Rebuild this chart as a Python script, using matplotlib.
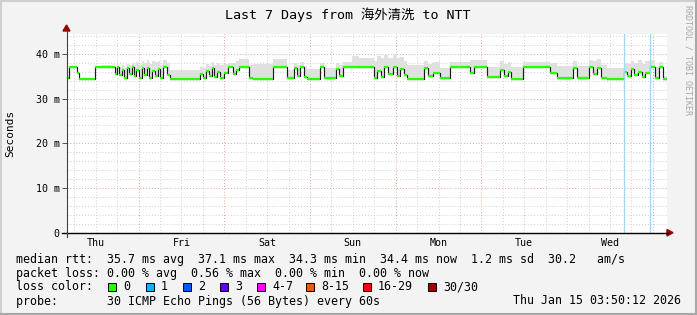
import numpy as np
import matplotlib
matplotlib.use("Agg")
import matplotlib.pyplot as plt
from matplotlib.patches import Polygon, Rectangle
from matplotlib.lines import Line2D

W, H = 697, 315
MONO = ["DejaVu Sans Mono", "Noto Sans CJK SC"]

# step segments: start hour (since Thu 03:50), median rtt (ms), top of smoke (ms)
seg_hours = [0.0, 0.6, 2.8, 3.5, 8.0, 10.0, 12.5, 13.6, 14.2, 14.8, 15.5, 16.2, 17.0, 17.6, 18.2,
             18.8, 19.5, 20.2, 21.0, 21.8, 22.5, 23.2, 24.0, 24.8, 25.5, 26.2, 27.0, 28.0, 29.0,
             37.4, 38.2, 39.0, 39.8, 40.6, 41.4, 42.2, 43.0, 44.0, 45.2, 46.6, 47.4, 48.4, 51.0,
             52.2, 57.9, 61.7, 63.8, 64.6, 65.5, 66.4, 67.4, 71.0, 72.0, 75.5, 76.4, 77.5, 80.0,
             82.0, 86.0, 87.0, 88.0, 89.0, 90.0, 91.4, 92.4, 93.4, 94.4, 95.3, 100.0, 101.3, 102.7,
             104.6, 107.4, 113.0, 114.0, 117.7, 121.5, 122.4, 123.5, 124.5, 127.9, 135.5, 137.4,
             141.8, 142.8, 146.2, 147.5, 148.4, 149.6, 151.4, 156.0, 157.0, 158.0, 159.0, 160.0,
             161.0, 162.0, 163.4, 164.8, 166.0, 167.0]
median_ms = [34.7, 37.1, 35.7, 34.4, 37.1, 37.1, 37.1, 35.6, 37.0, 35.2, 36.4, 34.6, 36.8, 35.5, 37.0,
             35.0, 36.5, 34.5, 36.8, 35.3, 36.9, 34.6, 36.2, 35.0, 36.6, 34.5, 37.0, 35.2, 34.4,
             35.6, 34.6, 36.2, 35.0, 36.8, 34.8, 36.0, 34.6, 35.8, 37.1, 35.4, 36.4, 37.0, 34.5,
             34.4, 37.1, 34.5, 36.8, 35.0, 37.0, 34.8, 34.4, 37.0, 34.5, 36.6, 35.0, 37.1, 37.1,
             37.1, 34.6, 36.2, 34.8, 37.0, 35.4, 37.0, 35.0, 36.6, 35.2, 34.4, 36.8, 35.0, 35.7,
             34.5, 37.1, 35.7, 37.1, 34.8, 36.4, 35.0, 36.0, 34.4, 37.1, 35.7, 34.5,
             36.8, 34.5, 37.0, 35.4, 36.8, 34.6, 34.4, 36.0, 35.0, 36.6, 35.2, 36.0,
             34.8, 35.8, 37.0, 34.5, 37.0, 34.4]
smoke_ms = [35.0, 37.4, 36.0, 34.6, 37.3, 37.5, 37.4, 37.0, 37.6, 37.0, 37.5, 36.8, 37.8, 37.5, 38.0,
            37.6, 38.2, 37.5, 38.4, 38.0, 38.6, 37.8, 38.5, 38.2, 38.4, 37.5, 38.6, 38.0, 36.5,
            37.0, 36.8, 37.8, 37.4, 38.2, 37.6, 38.0, 37.5, 37.8, 38.0, 38.0, 38.5, 38.8, 37.6,
            37.8, 38.8, 36.5, 38.0, 37.5, 38.3, 37.4, 36.6, 38.0, 36.8, 38.0, 37.5, 38.2, 39.5,
            39.0, 38.5, 39.5, 39.0, 39.8, 39.0, 40.0, 39.0, 39.2, 38.5, 37.5, 38.5, 37.8, 38.2,
            36.8, 38.2, 38.6, 38.6, 37.0, 38.4, 37.8, 38.2, 37.0, 38.2, 38.0, 37.2,
            38.4, 37.4, 38.6, 38.4, 38.8, 37.6, 36.8, 38.0, 37.8, 38.5, 38.0, 38.6,
            37.8, 38.4, 38.6, 37.0, 38.2, 35.0]
vrule_hours = [156.0, 163.4]
total_hours = 168
first_noon = 8.17
first_midnight = 20.17
days = ["Thu", "Fri", "Sat", "Sun", "Mon", "Tue", "Wed"]
y_ticks = [0, 10, 20, 30, 40]
y_labels = ["0", "10 m", "20 m", "30 m", "40 m"]

rtt_stats = [35.7, 37.1, 34.3, 34.4]
rtt_sd = 1.2
rtt_ams = 30.2
loss_stats = [0.00, 0.56, 0.00, 0.00]
loss_labels = ["0", "1", "2", "3", "4-7", "8-15", "16-29", "30/30"]
loss_colors = ["#26ff00", "#00b8ff", "#0059ff", "#5e00ff", "#ff00ff", "#ff5500", "#ff0000", "#a00000"]


def fx(x):
    return x / W


def fy(y):
    return 1 - y / H


fig = plt.figure(figsize=(W / 100, H / 100), dpi=100, facecolor="#f3f3f3")
ax = fig.add_axes([fx(66.5), fy(232.7), 600 / W, 198.9 / H])
ax.set_facecolor("white")
ax.set_xlim(0, total_hours)
ax.set_ylim(0, 44.5)
for s in ax.spines.values():
    s.set_visible(False)

# grid
dots = (0, (1, 2))
for v in range(2, 45, 2):
    major = v % 10 == 0
    ax.axhline(v, color="#e8a0a0" if major else "#d0d0d0", lw=0.7, ls=dots, zorder=1)
for h in np.arange(first_noon - 6, total_hours, 6):
    major = abs((h - first_midnight) % 24) < 0.01
    ax.axvline(h, color="#e8a0a0" if major else "#d0d0d0", lw=0.7, ls=dots, zorder=1)

# smoke + median
x = np.append(seg_hours, total_hours)
med = np.append(median_ms, median_ms[-1])
smk = np.append(smoke_ms, smoke_ms[-1])
ax.fill_between(x, med, smk, step="post", color="#e0e0e0", lw=0, zorder=2)
ax.step(x, med, where="post", color="#1a1a1a", lw=0.85, zorder=3)
ax.hlines(median_ms, seg_hours, x[1:], color="#26ff00", lw=1.6, zorder=4)
for h in vrule_hours:
    ax.axvline(h, color="#9fd6f2", lw=0.9, zorder=5)

# ticks
ax.set_yticks(y_ticks, y_labels)
ax.tick_params(axis="y", length=3.5, width=0.7, color="#505050", pad=1.5, labelsize=7.2)
ax.set_xticks([first_noon + 24 * k for k in range(len(days))], days)
ax.tick_params(axis="x", length=0, pad=4, labelsize=7.2)
for lab in ax.get_xticklabels() + ax.get_yticklabels():
    lab.set_family(MONO)

# axes lines with arrows
fig.add_artist(Line2D([fx(62), fx(668)], [fy(232.7), fy(232.7)], color="black", lw=1.0, transform=fig.transFigure))
fig.add_artist(Line2D([fx(66.5), fx(66.5)], [fy(237), fy(30)], color="#404040", lw=0.8, transform=fig.transFigure))
fig.add_artist(Polygon([(fx(667), fy(229.5)), (fx(667), fy(236)), (fx(673), fy(232.7))],
                       closed=True, color="#9b0000", transform=fig.transFigure))
fig.add_artist(Polygon([(fx(63), fy(31)), (fx(70), fy(31)), (fx(66.5), fy(25))],
                       closed=True, color="#9b0000", transform=fig.transFigure))

# texts
fig.text(fx(348), fy(15), "Last 7 Days from 海外清洗 to NTT", ha="center", va="center",
         fontsize=9.6, family=MONO)
fig.text(fx(10), fy(133), "Seconds", rotation=90, ha="center", va="center", fontsize=8, family=MONO)
fig.text(fx(688), fy(60), "RRDTOOL / TOBI OETIKER", rotation=270, ha="center", va="center",
         fontsize=6, color="#a8a8a8", family=MONO)

fs = 8.4
row = [259, 273, 287, 301]


def put(x0, y0, s, ha="left"):
    fig.text(fx(x0), fy(y0), s, ha=ha, va="center", fontsize=fs, family=MONO)


put(16, row[0], "median rtt:  {:.1f} ms avg  {:.1f} ms max  {:.1f} ms min  {:.1f} ms now  "
    "{:.1f} ms sd  {:.1f}   am/s".format(*rtt_stats, rtt_sd, rtt_ams))
put(16, row[1], "packet loss: {:.2f} % avg  {:.2f} % max  {:.2f} % min  {:.2f} % now".format(*loss_stats))

put(16, row[2], "loss color:")
for x0, lab, col in zip([123, 161, 198, 235, 272, 321, 378, 443], loss_labels, loss_colors):
    fig.add_artist(Rectangle((fx(x0 - 15), fy(291)), 8 / W, 8 / H, facecolor=col,
                             edgecolor="black", lw=0.7, transform=fig.transFigure))
    put(x0, row[2], lab)

put(16, row[3], "probe:       30 ICMP Echo Pings (56 Bytes) every 60s")
put(681, row[3], "Thu Jan 15 03:50:12 2026", ha="right")

# frame
fig.add_artist(Line2D([fx(1), fx(1)], [0, 1], color="#cfcfcf", lw=1.5, transform=fig.transFigure))
fig.add_artist(Line2D([0, 1], [fy(1), fy(1)], color="#cfcfcf", lw=1.5, transform=fig.transFigure))
fig.add_artist(Line2D([fx(696), fx(696)], [0, 1], color="#a8a8a8", lw=1.5, transform=fig.transFigure))
fig.add_artist(Line2D([0, 1], [fy(314), fy(314)], color="#a8a8a8", lw=1.5, transform=fig.transFigure))

fig.savefig("out.png", dpi=100, facecolor=fig.get_facecolor())
